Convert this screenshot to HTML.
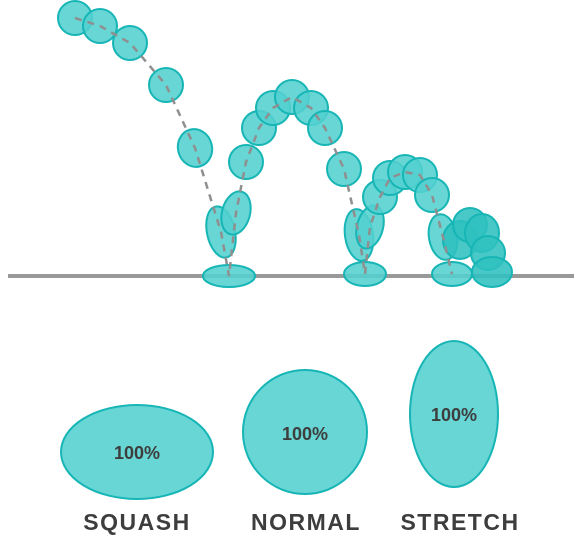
<!DOCTYPE html>
<html><head><meta charset="utf-8"><style>
html,body{margin:0;padding:0;background:#fff;width:582px;height:546px;overflow:hidden}
svg{display:block}
.b{fill:#52d0cf;fill-opacity:.88;stroke:#17b5b5;stroke-width:2}
.lbl{font-family:"Liberation Sans",sans-serif;font-weight:bold;fill:#3d3d3d}
</style></head><body>
<svg id="s" width="582" height="546" viewBox="0 0 582 546">
<rect x="8" y="274" width="566" height="4" fill="#999"/>
<g id="balls"></g>
<polyline id="path" fill="none" stroke="#8f8f8f" stroke-width="2.5" stroke-dasharray="7,6"/>
<ellipse class="b" cx="137" cy="452" rx="76" ry="47"/>
<circle class="b" cx="305" cy="432" r="62"/>
<ellipse class="b" cx="454" cy="414" rx="44" ry="73"/>
<text class="lbl" x="137" y="459" font-size="18" text-anchor="middle">100%</text>
<text class="lbl" x="305" y="440" font-size="18" text-anchor="middle">100%</text>
<text class="lbl" x="454" y="421" font-size="18" text-anchor="middle">100%</text>
<text class="lbl" x="137" y="530" font-size="23" letter-spacing="1.5" text-anchor="middle">SQUASH</text>
<text class="lbl" x="306" y="530" font-size="23" letter-spacing="1.5" text-anchor="middle">NORMAL</text>
<text class="lbl" x="460" y="530" font-size="23" letter-spacing="1.5" text-anchor="middle">STRETCH</text>
</svg>
<script>
const cxs=[75,100,130,166,195,221,236,229,246,259,273,292,311,325,344,359,370,365,380,390,405,420,432,443,452,460,470,482,488,492];
const cys=[18,26,43,85,148,232,213,276,162,128,108,97,108,128,169,235,227,274,197,178,172,175,195,237,274,240,225,233,253,272];
const rxs=[17,17,17,17,17,14,14,26,17,17,17,17,17,17,17,14,13,21,17,17,17,17,17,14,20,17,17,17,17,20];
const rys=[17,17,17,17,19,26,22,11,17,17,17,17,17,17,17,26,22,12,17,17,17,17,17,23,12,19,17,19,17,15];
const rots=[0,0,0,0,-15,-12,15,0,0,0,0,0,0,0,0,-8,15,0,0,0,0,0,0,-10,0,0,0,0,0,0];
const pathIdx=[0,1,2,3,4,5,7,6,8,9,10,11,12,13,14,15,17,16,18,19,20,21,22,23,24];
const g=document.getElementById('balls');
const ns='http://www.w3.org/2000/svg';
for(let i=0;i<cxs.length;i++){
  const e=document.createElementNS(ns,'ellipse');
  e.setAttribute('class','b');
  e.setAttribute('cx',cxs[i]);e.setAttribute('cy',cys[i]);
  e.setAttribute('rx',rxs[i]);e.setAttribute('ry',rys[i]);
  e.setAttribute('transform','rotate('+rots[i]+' '+cxs[i]+' '+cys[i]+')');
  if(i>=25) e.setAttribute('style','fill:#2fc0bf');
  
  
  g.appendChild(e);
}
document.getElementById('path').setAttribute('points',pathIdx.map(i=>cxs[i]+','+cys[i]).join(' '));
</script>
</body></html>
